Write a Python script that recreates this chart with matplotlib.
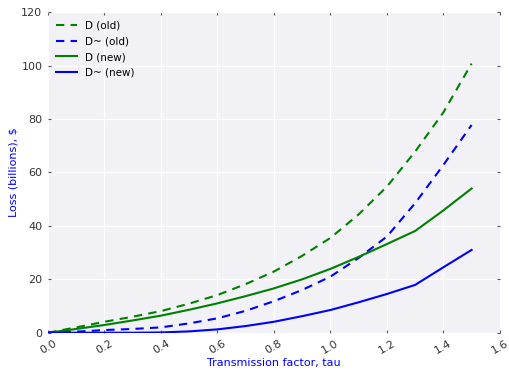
"""Loss vs. transmission factor, old and new estimates."""

import numpy as np
from matplotlib import pyplot as plt

tau = np.round(np.arange(0.0, 1.51, 0.1), 1)

d_old = [0, 2.0, 4.1, 6.0, 8.1, 10.9, 14.1, 18.2, 22.9, 28.8, 35.5, 44.3, 54.7, 67.8, 82.5, 100.8]
dt_old = [0, 0.4, 1.0, 1.4, 2.0, 3.5, 5.4, 8.2, 11.8, 16.0, 21.0, 28.0, 36.0, 48.5, 62.8, 77.8]
d_new = [0, 1.4, 2.9, 4.6, 6.4, 8.6, 11.0, 13.7, 16.6, 20.0, 23.9, 28.4, 33.2, 38.1, 45.8, 54.0]
dt_new = [0, 0.0, 0.0, 0.0, 0.1, 0.5, 1.25, 2.5, 4.1, 6.2, 8.5, 11.4, 14.5, 17.9, 24.5, 31.0]

x_ticks = np.arange(0.0, 1.61, 0.2)
y_ticks = np.arange(0, 121, 20)

fig = plt.figure(figsize=(5.09, 3.72), dpi=100)
ax = fig.add_axes([0.0943, 0.1056, 0.8877, 0.8614])
ax.set_facecolor("#f1f1f6")
for side in ax.spines.values():
    side.set_visible(False)
ax.grid(True, color="white", linewidth=1.0)
ax.set_axisbelow(True)

dash = (0, (4, 3))
ax.plot(tau, d_old, color="green", linestyle=dash, linewidth=1.5, label="D (old)")
ax.plot(tau, dt_old, color="blue", linestyle=dash, linewidth=1.5, label="D~ (old)")
ax.plot(tau, d_new, color="green", linewidth=1.5, label="D (new)")
ax.plot(tau, dt_new, color="blue", linewidth=1.5, label="D~ (new)")

ax.set_xlim(0, 1.6)
ax.set_ylim(0, 120)
ax.set_xticks(x_ticks)
ax.set_yticks(y_ticks)
ax.set_xticklabels([f"{t:.1f}" for t in x_ticks], rotation=30)
ax.tick_params(direction="in", length=2, color="#555555", labelcolor="#333333",
               labelsize=8, top=True, right=True, pad=4)

ax.set_xlabel("Transmission factor, tau", color="blue", fontsize=8, labelpad=1.5)
ax.set_ylabel(r"Loss (billions), \$", color="blue", fontsize=8, labelpad=2)

ax.legend(loc="upper left", frameon=False, fontsize=7.5, handlelength=2.0,
          borderaxespad=0.4, labelspacing=0.55)

plt.savefig("out.png", dpi=100)
